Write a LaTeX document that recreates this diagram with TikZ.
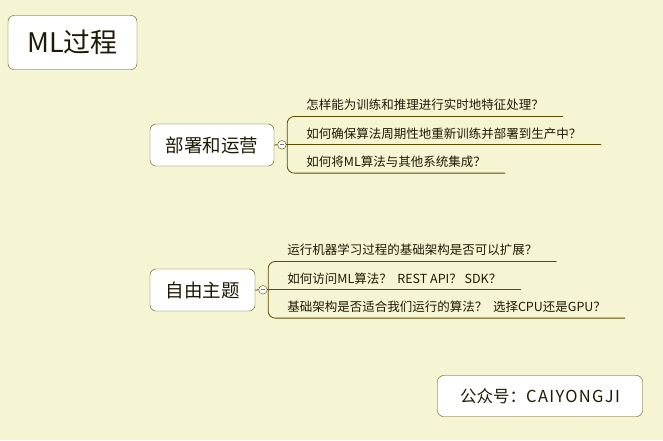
\documentclass[tikz,border=0pt]{standalone}
\usepackage{fontspec}
\usepackage{xcolor}
\usetikzlibrary{positioning}
\newfontfamily\cjk{Noto Sans CJK SC}
\definecolor{bgcol}{HTML}{F5F5D3}
\definecolor{linecol}{HTML}{5C4A00}
\definecolor{txtcol}{HTML}{1F1A05}
\definecolor{minuscol}{HTML}{6A7BA6}
\tikzstyle{topic} = [rectangle, draw=linecol, fill=white, rounded corners=6pt, text=txtcol, inner sep=0pt]
\tikzstyle{leaf} = [anchor=west, inner xsep=19pt, inner ysep=0pt, minimum height=22.6pt, text=txtcol, font=\cjk\fontsize{12.5}{14}\selectfont]
\tikzstyle{fold} = [circle, draw=linecol, fill=white, minimum size=8.6pt, inner sep=0pt]
\tikzstyle{branch} = [draw=linecol, line width=0.8pt]

\begin{document}
\begin{tikzpicture}[x=1pt, y=-1pt, node distance=5.3pt]
    \fill[bgcol] (0,0) rectangle (663,440);
    \useasboundingbox (0,0) rectangle (663,440);
    \node(title)[topic, minimum width=129pt, minimum height=54pt, font=\cjk\fontsize{27}{32}\selectfont] at (72.5,42.5) {ML过程};
    \node(deploy)[topic, minimum width=124pt, minimum height=42pt, font=\cjk\fontsize{18.5}{22}\selectfont] at (212,145) {部署和运营};
    \node(free)[topic, minimum width=105pt, minimum height=42pt, font=\cjk\fontsize{18.5}{22}\selectfont] at (202.5,290) {自由主题};
    \node(wechat)[topic, minimum width=205pt, minimum height=41pt, font=\cjk\fontsize{16.5}{19}\selectfont] at (540,396) {公众号：{\addfontfeature{LetterSpace=8}CAIYONGJI}};
    % branches of deploy
    \node(dep2)[leaf, right=13pt of deploy, yshift=11.7pt]{如何确保算法周期性地重新训练并部署到生产中？};
    \node(dep1)[leaf, above=of dep2.north west, anchor=south west]{怎样能为训练和推理进行实时地特征处理？};
    \node(dep3)[leaf, below=of dep2.south west, anchor=north west]{如何将ML算法与其他系统集成？};
    \node(fold1)[fold] at ([xshift=-5.3pt]dep2.south west) {};
    \draw[minuscol, line width=0.8pt] ([xshift=-2.2pt]fold1.center) -- ([xshift=2.2pt]fold1.center);
    \draw[branch] (deploy.east) -- (fold1.west);
    \draw[branch] (fold1.east) -- (dep2.south east);
    \draw[branch, rounded corners=7pt] (dep1.south east) -- (dep1.south west) -- (dep3.south west) -- (dep3.south east);
    % branches of free
    \node(free2)[leaf, right=13pt of free, yshift=11.7pt]{如何访问ML算法？\ \ REST API？\ SDK？};
    \node(free1)[leaf, above=of free2.north west, anchor=south west]{运行机器学习过程的基础架构是否可以扩展？};
    \node(free3)[leaf, below=of free2.south west, anchor=north west]{基础架构是否适合我们运行的算法？\ \ 选择CPU还是GPU？};
    \node(fold2)[fold] at ([xshift=-5.3pt]free2.south west) {};
    \draw[minuscol, line width=0.8pt] ([xshift=-2.2pt]fold2.center) -- ([xshift=2.2pt]fold2.center);
    \draw[branch] (free.east) -- (fold2.west);
    \draw[branch] (fold2.east) -- (free2.south east);
    \draw[branch, rounded corners=7pt] (free1.south east) -- (free1.south west) -- (free3.south west) -- (free3.south east);
\end{tikzpicture}
\end{document}
